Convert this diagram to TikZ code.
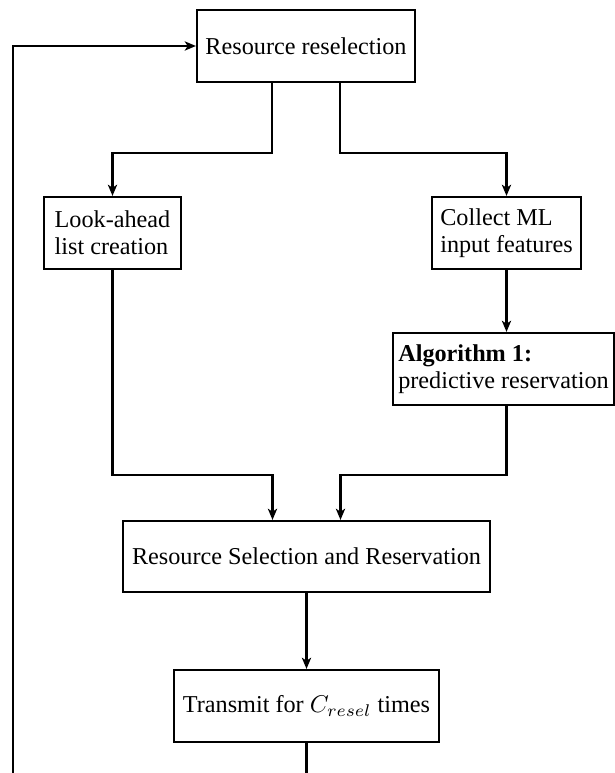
\documentclass[tikz,border=0pt]{standalone}
\usepackage{fontspec}
\setmainfont{Liberation Serif}
\usetikzlibrary{calc,arrows.meta}
\begin{document}
\begin{tikzpicture}[x=0.413pt,y=-0.413pt,
  box/.style={draw,line width=0.9pt,inner sep=0pt,align=center,
    font=\fontsize{10}{11.2}\selectfont},
  lbox/.style={box,align=left},
  arr/.style={line width=0.9pt,-{Stealth[length=4.6pt,width=3.8pt,inset=1.2pt]}}]
\useasboundingbox (0,0) rectangle (615,773);
\clip (0,0) rectangle (615,773);
\node[box,minimum width=218*0.413pt,minimum height=72*0.413pt] (top) at (306,46) {Resource reselection};
\node[lbox,minimum width=137*0.413pt,minimum height=72*0.413pt] (look) at (112.5,233) {Look-ahead\\list creation};
\node[lbox,minimum width=149*0.413pt,minimum height=72*0.413pt] (col) at (506.5,233) {Collect ML\\input features};
\node[lbox,minimum width=221*0.413pt,minimum height=72*0.413pt] (algo) at (503.5,369) {\textbf{Algorithm 1:}\\predictive reservation};
\node[box,minimum width=367*0.413pt,minimum height=71*0.413pt] (rsr) at (306.5,556.5) {Resource Selection and Reservation};
\node[box,minimum width=265*0.413pt,minimum height=72*0.413pt] (tx) at (306.5,706) {Transmit for $C_{resel}$ times};
\coordinate (lb) at (13,800);
\draw[arr] ($(top.south)+(-34,0)$) -- ++(0,70) -| (look.north);
\draw[arr] ($(top.south)+(34,0)$) -- ++(0,70) -| (col.north);
\draw[arr] (col.south) -- (col.south |- algo.north);
\draw[arr] (look.south) -- ++(0,205) -| ($(rsr.north)+(-34,0)$);
\draw[arr] (algo.south -| col.south) -- ++(0,69) -| ($(rsr.north)+(34,0)$);
\draw[arr] (rsr.south) -- (rsr.south |- tx.north);
\draw[arr] (tx.south) |- (lb) |- (top.west);
\end{tikzpicture}
\end{document}
